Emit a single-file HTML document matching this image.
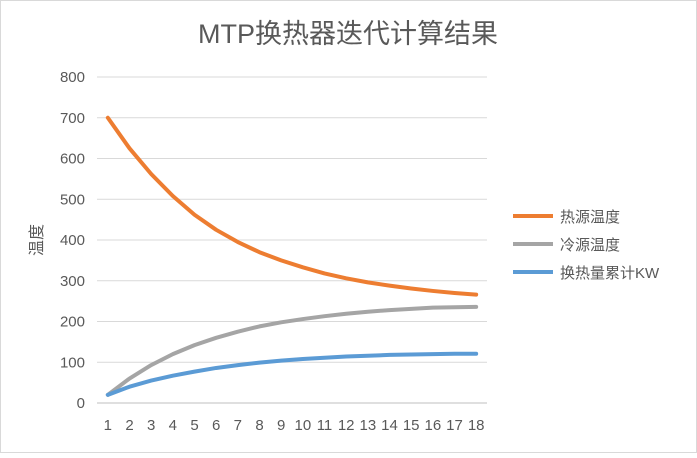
<!DOCTYPE html>
<html><head><meta charset="utf-8"><style>
body{margin:0;background:#fff;}
svg text{font-family:"Liberation Sans","Noto Sans CJK SC",sans-serif;}
</style></head><body>
<svg id="c" width="697" height="453">
<rect x="0.5" y="0.5" width="696" height="452" fill="#fff" stroke="#d9d9d9"/>
<text x="348" y="43" text-anchor="middle" font-size="27" fill="#595959">MTP换热器迭代计算结果</text>
<text transform="translate(42,240) rotate(-90)" text-anchor="middle" font-size="16" fill="#595959">温度</text>
<g id="grid"></g><g id="series"></g>
<g>
<line x1="513" y1="216" x2="553" y2="216" stroke="#ED7D31" stroke-width="4"/>
<text x="560" y="222" font-size="15" fill="#595959">热源温度</text>
<line x1="513" y1="244" x2="553" y2="244" stroke="#A5A5A5" stroke-width="4"/>
<text x="560" y="250" font-size="15" fill="#595959">冷源温度</text>
<line x1="513" y1="272" x2="553" y2="272" stroke="#5B9BD5" stroke-width="4"/>
<text x="560" y="278" font-size="15" fill="#595959">换热量累计KW</text>
</g>
</svg>
<script>
const categories=[1,2,3,4,5,6,7,8,9,10,11,12,13,14,15,16,17,18];
const yTicks=[0,100,200,300,400,500,600,700,800];
const hotTemp=[700,625,562,508,462,425,395,370,350,333,318,306,296,288,281,275,270,266];
const coldTemp=[20,60,93,120,142,160,175,188,198,206,213,219,224,228,231,234,235,236];
const heatSum=[20,40,55,67,77,86,93,99,104,108,111,114,116,118,119,120,121,121];
const NS="http://www.w3.org/2000/svg";
const x0=97,x1=487,yB=403,yT=77;
const xs=i=>x0+(x1-x0)*(i+0.5)/categories.length;
const ys=v=>yB-(yB-yT)*v/800;
const g=document.getElementById('grid');
yTicks.forEach(t=>{
 const l=document.createElementNS(NS,'line');
 l.setAttribute('x1',x0);l.setAttribute('x2',x1);l.setAttribute('y1',ys(t));l.setAttribute('y2',ys(t));
 l.setAttribute('stroke',t===0?'#bfbfbf':'#d9d9d9');
 
 
 g.appendChild(l);
 const tx=document.createElementNS(NS,'text');
 tx.setAttribute('x',85);tx.setAttribute('y',ys(t)+5);tx.setAttribute('text-anchor','end');
 tx.setAttribute('font-size','15');tx.setAttribute('fill','#595959');tx.textContent=t;
 
 
 g.appendChild(tx);
});
categories.forEach((c,i)=>{
 const tx=document.createElementNS(NS,'text');
 tx.setAttribute('x',xs(i));tx.setAttribute('y',430);tx.setAttribute('text-anchor','middle');
 tx.setAttribute('font-size','15');tx.setAttribute('fill','#595959');tx.textContent=c;
 
 
 g.appendChild(tx);
});
const s=document.getElementById('series');
[[hotTemp,'#ED7D31','hot-line'],[coldTemp,'#A5A5A5','cold-line'],[heatSum,'#5B9BD5','heat-line']].forEach(([d,col,n])=>{
 const p=document.createElementNS(NS,'polyline');
 p.setAttribute('points',d.map((v,i)=>xs(i)+','+ys(v)).join(' '));
 p.setAttribute('fill','none');p.setAttribute('stroke',col);p.setAttribute('stroke-width','4');
 p.setAttribute('stroke-linejoin','round');p.setAttribute('stroke-linecap','round');
 
 
 s.appendChild(p);
});
</script>
</body></html>
